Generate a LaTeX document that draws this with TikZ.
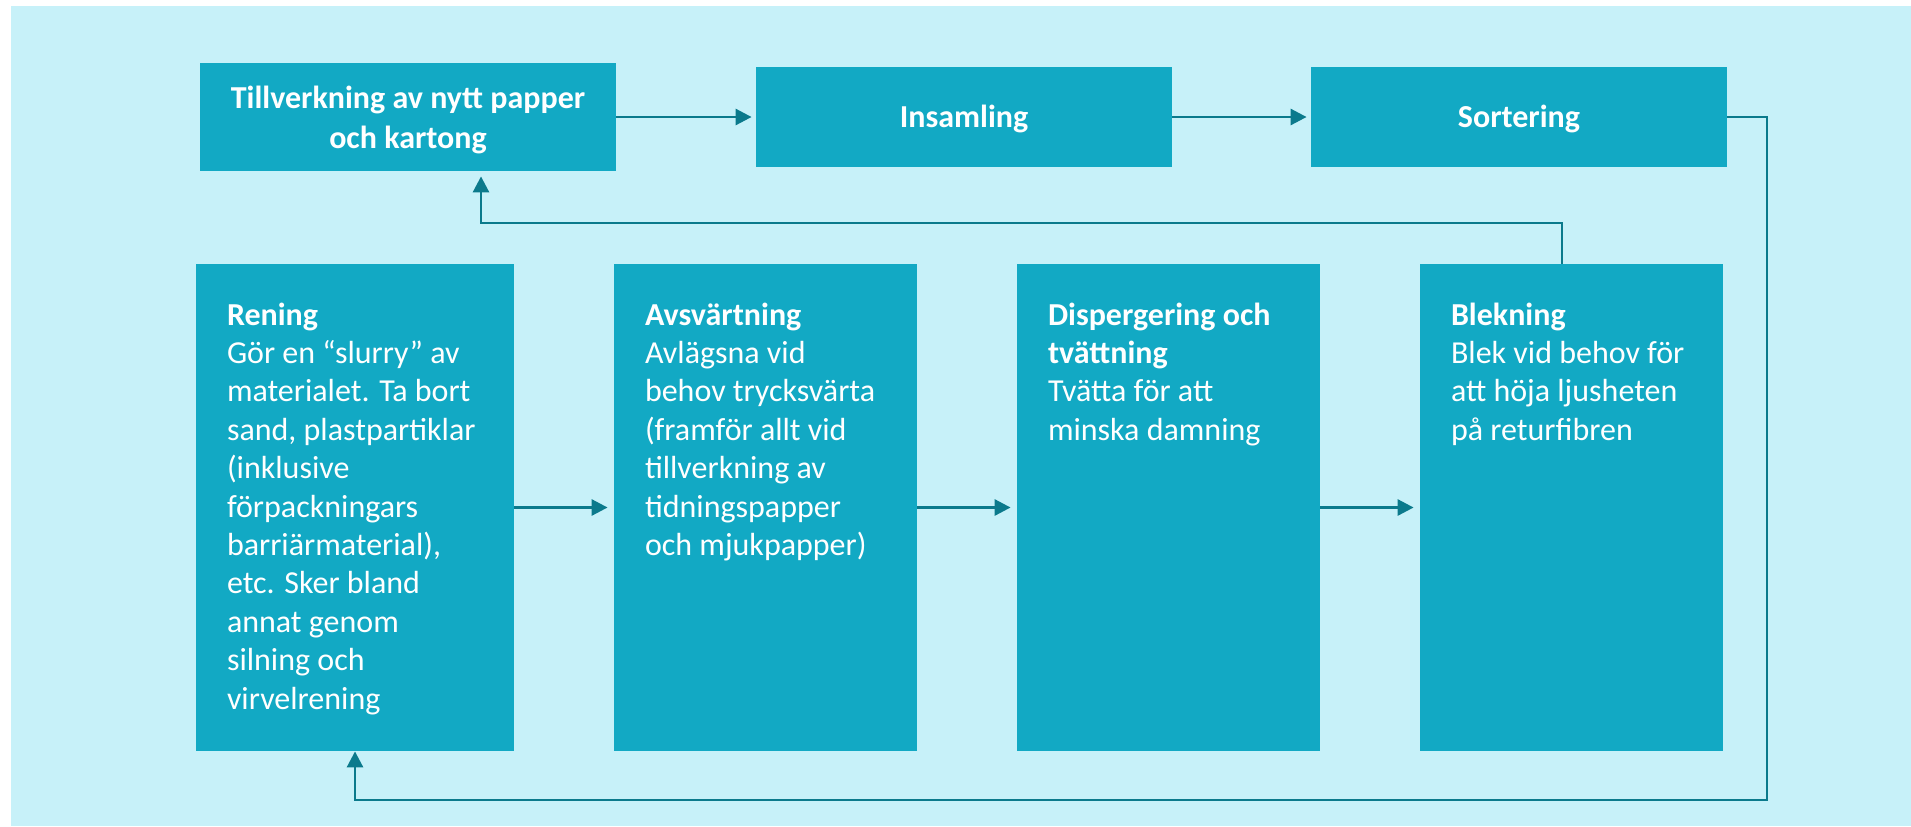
\documentclass[tikz,border=0pt]{standalone}
\usepackage{fontspec}
\setmainfont{Carlito}
\usetikzlibrary{arrows.meta}
\definecolor{bgc}{HTML}{C7F1F9}
\definecolor{boxc}{HTML}{12A9C4}
\definecolor{linec}{HTML}{0B7A8C}
\begin{document}
\begin{tikzpicture}[x=0.5pt,y=-0.5pt,
  box/.style={fill=boxc, draw=none, inner sep=0pt},
  topbox/.style={box, minimum width=208pt, text=white, font=\bfseries\fontsize{16}{19.7}\selectfont, align=center},
  lowbox/.style={box, minimum height=243.5pt},
  lowtext/.style={anchor=north west, inner sep=0pt, text=white, align=left, font=\fontsize{16}{19.2}\selectfont},
  conn/.style={draw=linec, line width=1.4pt},
  arr/.style={conn, -{Triangle[length=8pt,width=8pt]}, shorten >=2pt}]
\useasboundingbox (0,0) rectangle (1911,826);
\fill[bgc] (11,6) rectangle (1911,826);

\node[topbox, minimum height=54pt] (make) at (408,117) {\rule{0pt}{14.7pt}Tillverkning av nytt papper\\och kartong\rule[-3.2pt]{0pt}{0pt}};
\node[topbox, minimum height=50pt] (collect) at (964,117) {\rule[-3.3pt]{0pt}{17.3pt}Insamling};
\node[topbox, minimum height=50pt] (sort) at (1519,117) {\rule[-3.3pt]{0pt}{17.3pt}Sortering};

\node[lowbox, minimum width=159pt] (rening) at (355,507.5) {};
\node[lowbox, minimum width=151.5pt] (avs) at (765.5,507.5) {};
\node[lowbox, minimum width=151.5pt] (disp) at (1168.5,507.5) {};
\node[lowbox, minimum width=151.5pt] (blek) at (1571.5,507.5) {};

\node[lowtext] (reningtxt) at ([xshift=15.5pt,yshift=-17.06pt]rening.north west)
  {\strut\textbf{Rening}\\Gör en “slurry” av\\materialet. Ta bort\\sand, plastpartiklar\\(inklusive\\förpackningars\\barriärmaterial),\\etc. Sker bland\\annat genom\\silning och\\virvelrening};
\node[lowtext] (avstxt) at ([xshift=15.5pt,yshift=-17.06pt]avs.north west)
  {\strut\textbf{Avsvärtning}\\Avlägsna vid\\behov trycksvärta\\(framför allt vid\\tillverkning av\\tidningspapper\\och mjukpapper)};
\node[lowtext] (disptxt) at ([xshift=15.5pt,yshift=-17.06pt]disp.north west)
  {\strut\textbf{Dispergering och}\\\textbf{tvättning}\\Tvätta för att\\minska damning};
\node[lowtext] (blektxt) at ([xshift=15.5pt,yshift=-17.06pt]blek.north west)
  {\strut\textbf{Blekning}\\Blek vid behov för\\att höja ljusheten\\på returfibren};

\coordinate (cR) at (1767,800);
\coordinate (cTop) at (1562,223);

\draw[arr] (make.east) -- (collect.west);
\draw[arr] (collect.east) -- (sort.west);
\draw[arr, shorten >=0pt] (sort.east) -| (cR) -| (rening.south);
\draw[arr, shorten >=2.5pt] ([xshift=-4.75pt]blek.north) -- (cTop) -| ([xshift=36.5pt]make.south);
\draw[arr, shorten >=3pt] (rening.east) -- (avs.west);
\draw[arr, shorten >=3pt] (avs.east) -- (disp.west);
\draw[arr, shorten >=3pt] (disp.east) -- (blek.west);
\end{tikzpicture}
\end{document}
